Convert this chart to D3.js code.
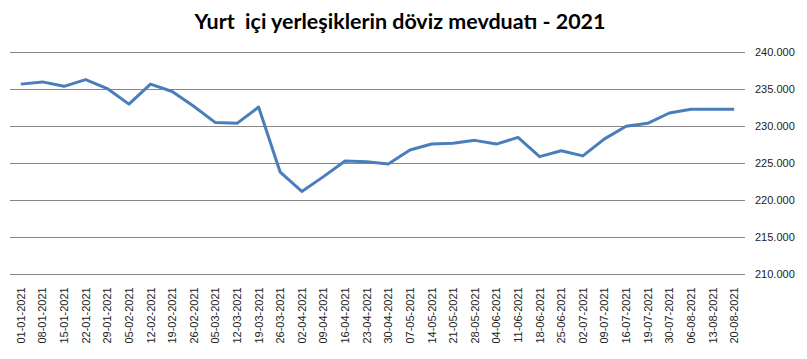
<!DOCTYPE html>
<html><head><meta charset="utf-8">
<script src="https://cdn.jsdelivr.net/npm/d3@7/dist/d3.min.js"></script>
<style>body{margin:0;background:#fff}svg{display:block}</style>
</head><body>
<script>
const titleText = "Yurt  içi yerleşiklerin döviz mevduatı - 2021";
const dates = ["01-01-2021","08-01-2021","15-01-2021","22-01-2021","29-01-2021","05-02-2021","12-02-2021","19-02-2021","26-02-2021","05-03-2021","12-03-2021","19-03-2021","26-03-2021","02-04-2021","09-04-2021","16-04-2021","23-04-2021","30-04-2021","07-05-2021","14-05-2021","21-05-2021","28-05-2021","04-06-2021","11-06-2021","18-06-2021","25-06-2021","02-07-2021","09-07-2021","16-07-2021","19-07-2021","30-07-2021","06-08-2021","13-08-2021","20-08-2021"];
const values = [235.7,236.0,235.4,236.3,235.1,233.0,235.7,234.7,232.7,230.5,230.4,232.6,223.8,221.2,223.2,225.3,225.2,224.9,226.8,227.6,227.7,228.1,227.6,228.5,225.9,226.7,226.0,228.3,230.0,230.4,231.8,232.3,232.3,232.3];
const yTicks = [210,215,220,225,230,235,240];

const W = 807, H = 359;
const svg = d3.select("body").append("svg").attr("width", W).attr("height", H);

const x = d3.scaleBand().domain(dates).range([10, 745]);
const y = d3.scaleLinear().domain([210, 240]).range([274.3, 52.3]);

svg.append("text").attr("x", 400).attr("y", 29).attr("text-anchor", "middle")
  .attr("font-family", "Lato, 'Open Sans', sans-serif").attr("font-weight", "bold")
  .attr("font-size", 21).attr("fill", "#000").style("white-space", "pre")
  .attr("textLength", 411).attr("lengthAdjust", "spacingAndGlyphs")
  .text(titleText);

const yAxis = svg.append("g").attr("transform", "translate(745,0)")
  .call(d3.axisRight(y).tickValues(yTicks).tickSize(0).tickPadding(10)
    .tickFormat(d => d3.format(".3f")(d)));
yAxis.select(".domain").remove();
yAxis.selectAll("text").attr("font-family", "'Liberation Sans', Arial, sans-serif").attr("font-size", 11).attr("fill", "#222");

svg.append("g").selectAll("line").data(yTicks).join("line")
  .attr("x1", 10).attr("x2", 745).attr("y1", d => Math.round(y(d)) + 0.5).attr("y2", d => Math.round(y(d)) + 0.5)
  .attr("stroke", "#868686").attr("stroke-width", 1);

const xAxis = svg.append("g").attr("transform", "translate(0,274.3)")
  .call(d3.axisBottom(x).tickSize(0).tickPadding(0));
xAxis.select(".domain").remove();
xAxis.selectAll("text")
  .attr("font-family", "'Liberation Sans', Arial, sans-serif").attr("font-size", 11).attr("fill", "#222")
  .attr("text-anchor", "end").attr("dy", null)
  .attr("transform", "translate(4,13) rotate(-90)");

const line = d3.line().x((d, i) => x(dates[i]) + x.bandwidth() / 2).y(d => y(d));
svg.append("path").datum(values).attr("d", line)
  .attr("fill", "none").attr("stroke", "#4a7ebb").attr("stroke-width", 3).attr("stroke-linejoin", "round");
</script>
</body></html>
